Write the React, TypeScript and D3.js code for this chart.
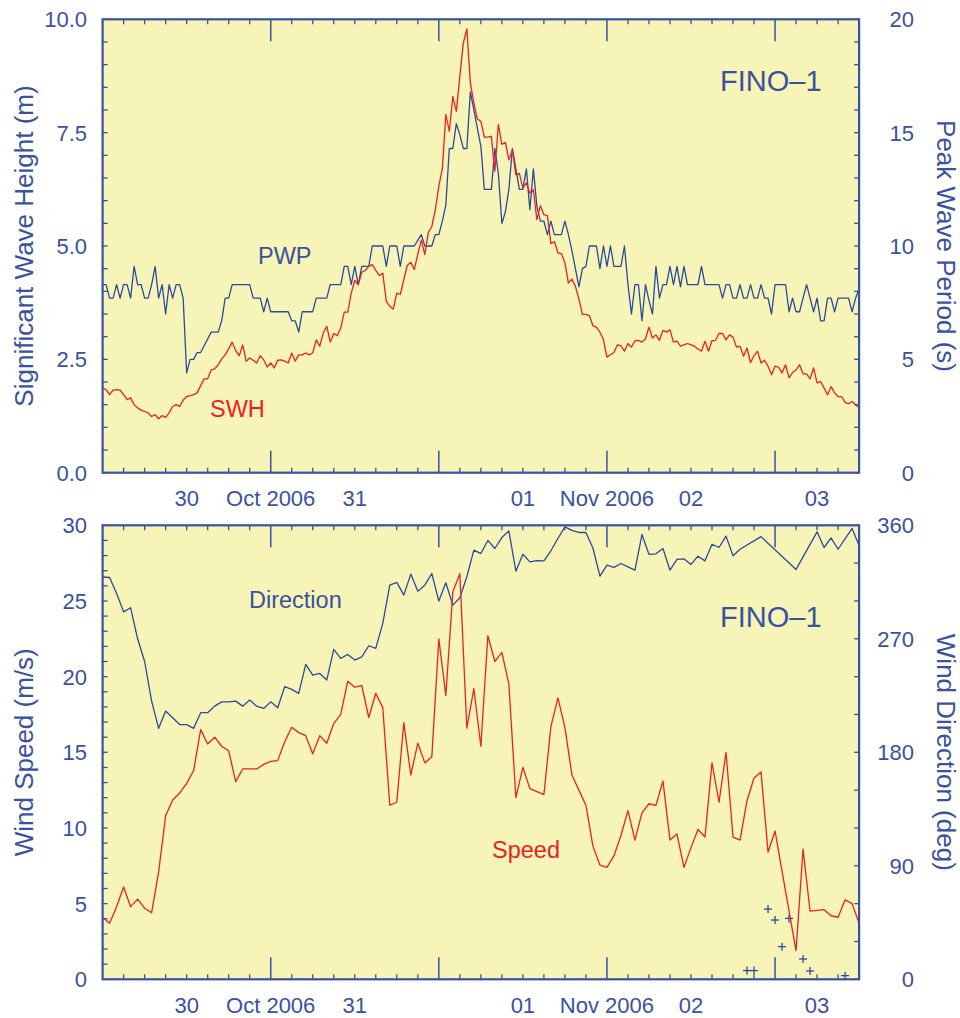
import React from "react";
import * as d3 from "d3";

// ---------- DATA ----------
// Half-hourly values from 30 Oct 2006 00:00 UTC
const SWH = [
  1.87, 1.83, 1.72, 1.82, 1.83, 1.82, 1.72, 1.61, 1.65, 1.5,
  1.43, 1.38, 1.35, 1.32, 1.24, 1.28, 1.19, 1.26, 1.22, 1.32,
  1.46, 1.5, 1.46, 1.6, 1.68, 1.7, 1.72, 1.76, 1.92, 2.07,
  2.07, 2.27, 2.29, 2.38, 2.51, 2.6, 2.73, 2.88, 2.69, 2.58,
  2.82, 2.46, 2.53, 2.48, 2.42, 2.58, 2.49, 2.33, 2.42, 2.31,
  2.48, 2.49, 2.46, 2.42, 2.64, 2.46, 2.6, 2.6, 2.64, 2.6,
  2.64, 2.93, 2.79, 3.08, 3.23, 2.88, 3.07, 3.02, 3.19, 3.54,
  3.54, 3.96, 4.24, 4.15, 4.42, 4.46, 4.55, 4.59, 4.46, 4.35,
  4.4, 3.78, 3.67, 3.61, 3.96, 3.93, 4.26, 4.57, 4.64, 4.48,
  4.82, 5.13, 4.81, 5.3, 5.43, 5.8, 6.32, 6.7, 7.9, 7.53,
  8.3, 7.97, 8.74, 9.48, 9.79, 8.6, 8.15, 7.8, 7.75, 7.4,
  7.4, 7.42, 6.65, 7.68, 7.24, 7.29, 6.9, 7.12, 6.57, 6.6,
  6.28, 6.39, 6.17, 6.24, 5.58, 5.89, 5.69, 5.67, 5.05, 5.1,
  4.85, 4.83, 4.63, 4.18, 4.27, 4.11, 3.83, 3.49, 3.49, 3.46,
  3.24, 3.21, 3.1, 2.93, 2.55, 2.6, 2.65, 2.82, 2.8, 2.68,
  2.85, 2.77, 2.91, 2.92, 2.88, 2.95, 3.21, 2.97, 3.04, 2.92,
  3.14, 3.1, 3.15, 2.88, 2.9, 2.79, 2.82, 2.85, 2.82, 2.79,
  2.73, 2.68, 2.9, 2.68, 2.91, 2.92, 3.07, 3.07, 2.93, 3.04,
  2.99, 2.77, 2.79, 2.57, 2.75, 2.43, 2.58, 2.68, 2.42, 2.48,
  2.35, 2.16, 2.35, 2.33, 2.2, 2.38, 2.09, 2.21, 2.27, 2.38,
  2.18, 2.18, 2.07, 2.31, 1.98, 2.01, 1.87, 1.72, 1.9, 1.76,
  1.68, 1.68, 1.55, 1.52, 1.57, 1.5, 1.43,
];

const PWP = [
  8.3, 8.3, 7.7, 7.7, 8.3, 7.7, 8.3, 8.3, 7.7, 9.1,
  8.3, 8.3, 7.7, 7.7, 8.3, 9.1, 7.7, 8.3, 7.0, 8.3,
  7.7, 8.3, 8.3, 7.7, 4.4, 5.0, 5.0, 5.3, 5.3, 5.6,
  5.9, 6.2, 6.2, 6.2, 6.7, 7.7, 7.7, 8.3, 8.3, 8.3,
  8.3, 8.3, 8.3, 7.7, 7.7, 7.7, 7.1, 7.7, 7.1, 7.1,
  7.1, 7.1, 7.1, 7.1, 6.7, 6.7, 6.2, 7.1, 7.1, 7.1,
  7.1, 7.7, 7.7, 7.7, 7.7, 8.3, 8.3, 8.3, 8.3, 9.1,
  9.1, 8.3, 9.1, 8.3, 9.1, 9.1, 9.1, 10.0, 10.0, 10.0,
  10.0, 9.1, 10.0, 10.0, 10.0, 9.1, 10.0, 10.0, 10.0, 10.0,
  10.25, 10.5, 10.0, 10.0, 10.0, 10.5, 10.5, 11.1, 11.8, 14.3,
  14.3, 15.4, 14.9, 14.3, 14.3, 16.8, 16.0, 15.2, 14.4, 12.5,
  12.5, 12.5, 14.3, 13.2, 11.0, 11.5, 12.5, 14.3, 13.4, 12.5,
  12.5, 13.4, 11.6, 13.4, 11.75, 11.1, 11.1, 10.5, 11.1, 10.5,
  10.5, 10.5, 11.1, 10.5, 9.8, 9.0, 8.2, 9.0, 9.1, 10.0,
  10.0, 10.0, 9.0, 10.0, 9.1, 10.0, 9.1, 9.1, 9.1, 10.0,
  8.3, 7.0, 8.3, 8.3, 6.7, 8.3, 7.6, 7.0, 9.1, 7.7,
  8.3, 8.3, 9.1, 8.3, 9.1, 8.2, 9.1, 8.3, 8.3, 8.3,
  8.3, 9.1, 8.3, 8.3, 8.3, 8.3, 8.3, 7.7, 8.3, 8.3,
  7.7, 7.7, 8.3, 7.7, 7.7, 8.3, 7.7, 7.7, 8.3, 7.7,
  7.7, 7.0, 8.3, 8.3, 8.3, 8.3, 7.1, 7.7, 7.1, 7.1,
  7.7, 8.3, 7.7, 7.1, 7.7, 6.7, 6.7, 7.7, 7.7, 7.1,
  7.7, 7.7, 7.7, 7.7, 7.1, 7.7, 8.1,
];

// Hourly values from 30 Oct 2006 00:00 UTC
const WIND_SPEED = [
  4.1, 3.7, 4.8, 6.1, 4.8, 5.3, 4.7, 4.4, 7.1, 10.8,
  11.85, 12.3, 12.95, 13.8, 16.5, 15.55, 16.0, 15.4, 15.1, 13.06,
  13.9, 13.9, 13.9, 14.2, 14.4, 14.45, 15.7, 16.65, 16.3, 16.1,
  14.9, 16.1, 15.6, 16.9, 17.5, 19.7, 19.3, 19.4, 17.3, 18.9,
  17.95, 11.5, 11.7, 16.96, 13.5, 15.6, 14.3, 14.7, 22.5, 18.75,
  25.6, 26.8, 16.6, 19.2, 15.4, 22.7, 21.0, 21.6, 19.5, 12.0,
  14.0, 12.6, 12.4, 12.2, 16.7, 18.6, 16.65, 13.5, 12.5, 11.5,
  8.8, 7.55, 7.4, 8.15, 9.5, 11.15, 9.2, 11.0, 11.6, 11.5,
  13.1, 9.2, 9.6, 7.4, 8.7, 9.9, 9.4, 14.3, 11.7, 15.0,
  9.4, 9.2, 11.8, 13.3, 13.7, 8.4, 9.8, 7.15, 4.5, 1.9,
  8.6, 4.5, 4.55, 4.6, 4.2, 4.1, 5.25, 5.0, 3.7,
];

const WIND_DIR = [
  319, 318.6, 306, 291.4, 294.6, 270, 252, 220.6, 199, 212.7,
  207.4, 202, 202, 199, 211.4, 211.4, 216.6, 220, 220, 220.6,
  216.6, 221.4, 216.6, 214.8, 220, 215.3, 232, 229.9, 226.7, 249.7,
  241.2, 242.5, 237.3, 261.6, 254.4, 257.6, 253.1, 255.7, 264.5, 262.4,
  282.2, 312.5, 314.7, 304.6, 321.3, 307.8, 312.5, 321.8, 299.9, 314.4,
  296.7, 302.5, 319.2, 340.3, 337.6, 348, 341.6, 350.3, 355.6, 323.6,
  337, 331, 332, 331.8, 339.8, 349.5, 358.8, 356, 354.3, 354.3,
  342, 319.7, 328.4, 326.6, 329.7, 327, 324.4, 352.7, 337, 337.4,
  341.6, 324.4, 333, 333.4, 329, 335.5, 331.8, 345, 342.4, 351.4,
  335.8, 341, 6.9, 6.9, 351, 55.7, 47, 25.9, 48.3, 325,
  16.1, 6.6, 354.8, 342.4, 350, 341, 2.9, 357.5, 344,
];

const DAY_LABELS = ["30", "31", "01", "02", "03"];
const MONTH_LABELS = ["Oct 2006", "Nov 2006"];
const MONTH_LABEL_DAY_OFFSETS = [1, 3];
const SWH_TICKS = [0, 2.5, 5, 7.5, 10];
const PWP_TICKS = [0, 5, 10, 15, 20];
const SPEED_TICKS = [0, 5, 10, 15, 20, 25, 30];
const DIR_TICKS = [0, 90, 180, 270, 360];

// ---------- LAYOUT / STYLE ----------
const START = new Date(Date.UTC(2006, 9, 30, 0));
const END = new Date(Date.UTC(2006, 10, 3, 12));
const W = 960;
const H = 1018;
const LEFT = 102.6;
const RIGHT = 859.1;
const P1 = { top: 19.3, bottom: 472.7 };
const P2 = { top: 525.3, bottom: 979.3 };

const BG = "#f6f4b6";
const AXIS = "#3a51a2";
const RED = "#ea2129";
const BLUE = "#2c4a9c";
const FONT = "'Liberation Sans', Arial, Helvetica, sans-serif";
const TICK_FS = 22;
const TITLE_FS = 26;

const x = d3.scaleUtc().domain([START, END]).range([LEFT, RIGHT]);

function XAxisDecor({ top, bottom }: { top: number; bottom: number }) {
  const majors = d3.utcDay.range(START, new Date(+END + 1)).filter((d) => +d > +START && +d < +END);
  const minors = d3.utcHour.every(3)!.range(START, END).filter((d) => d.getUTCHours() !== 0);
  const days = d3.utcDay.range(START, END);
  const labelY = bottom + 33.5;
  return (
    <g>
      {minors.map((d, i) => (
        <g key={"mn" + i}>
          <line x1={x(d)} x2={x(d)} y1={top} y2={top + 5} stroke={AXIS} strokeWidth={1.3} />
          <line x1={x(d)} x2={x(d)} y1={bottom} y2={bottom - 5} stroke={AXIS} strokeWidth={1.3} />
        </g>
      ))}
      {majors.map((d, i) => (
        <g key={"mj" + i}>
          <line x1={x(d)} x2={x(d)} y1={top} y2={top + 22} stroke={AXIS} strokeWidth={1.5} />
          <line x1={x(d)} x2={x(d)} y1={bottom} y2={bottom - 22} stroke={AXIS} strokeWidth={1.5} />
        </g>
      ))}
      {days.map((d, i) => {
        const a = x(d3.max([d, START])!);
        const b = x(d3.min([d3.utcDay.offset(d, 1), END])!);
        return (
          <text key={"dl" + i} x={(a + b) / 2} y={labelY} textAnchor="middle" fontSize={TICK_FS} fill={AXIS} fontFamily={FONT}>
            {DAY_LABELS[i]}
          </text>
        );
      })}
      {MONTH_LABELS.map((t, i) => (
        <text key={"ml" + i} x={x(d3.utcDay.offset(START, MONTH_LABEL_DAY_OFFSETS[i]))} y={labelY} textAnchor="middle" fontSize={TICK_FS} fill={AXIS} fontFamily={FONT}>
          {t}
        </text>
      ))}
    </g>
  );
}

function YAxisDecor({
  scale, ticks, minorStep, side, fmt,
}: { scale: d3.ScaleLinear<number, number>; ticks: number[]; minorStep: number; side: "left" | "right"; fmt: (v: number) => string }) {
  const [lo, hi] = scale.domain();
  const minors = d3.range(lo, hi + minorStep / 2, minorStep);
  const edge = side === "left" ? LEFT : RIGHT;
  const dir = side === "left" ? 1 : -1;
  const lx = side === "left" ? 87 : 914;
  return (
    <g>
      {minors.map((v, i) => (
        <line key={i} x1={edge} x2={edge + dir * 5} y1={scale(v)} y2={scale(v)} stroke={AXIS} strokeWidth={1.3} />
      ))}
      {ticks.map((v, i) => (
        <text key={"t" + i} x={lx} y={scale(v)} dy="0.36em" textAnchor="end" fontSize={TICK_FS} fill={AXIS} fontFamily={FONT}>
          {fmt(v)}
        </text>
      ))}
    </g>
  );
}

function Frame({ top, bottom }: { top: number; bottom: number }) {
  return <rect x={LEFT} y={top} width={RIGHT - LEFT} height={bottom - top} fill="none" stroke={AXIS} strokeWidth={2.2} />;
}

export default function App() {
  const halfHourT = (i: number) => new Date(+START + i * 30 * 60000);
  const hourT = (i: number) => new Date(+START + i * 60 * 60000);

  const ySwh = d3.scaleLinear().domain([0, 10]).range([P1.bottom, P1.top]);
  const yPwp = d3.scaleLinear().domain([0, 20]).range([P1.bottom, P1.top]);
  const ySpd = d3.scaleLinear().domain([0, 30]).range([P2.bottom, P2.top]);
  const yDir = d3.scaleLinear().domain([0, 360]).range([P2.bottom, P2.top]);

  const swhLine = d3.line<number>().x((_, i) => x(halfHourT(i))).y((v) => ySwh(v))(SWH) || "";
  const pwpLine = d3.line<number>().x((_, i) => x(halfHourT(i))).y((v) => yPwp(v))(PWP) || "";
  const spdLine = d3.line<number>().x((_, i) => x(hourT(i))).y((v) => ySpd(v))(WIND_SPEED) || "";

  const dirPts = WIND_DIR.map((v, i) => ({ t: hourT(i), v }));
  const dirLinePts = dirPts.filter((p) => p.v >= 90);
  const dirMarks = dirPts.filter((p) => p.v < 90);
  const dirLine = d3.line<{ t: Date; v: number }>().x((p) => x(p.t)).y((p) => yDir(p.v))(dirLinePts) || "";

  const f1 = d3.format(".1f");
  const f0 = d3.format("d");

  return (
    <div style={{ position: "absolute", left: 0, top: 0 }}>
      <svg width={W} height={H} viewBox={`0 0 ${W} ${H}`} style={{ display: "block", background: "#ffffff" }}>
        {/* Panel 1 */}
        <rect x={LEFT} y={P1.top} width={RIGHT - LEFT} height={P1.bottom - P1.top} fill={BG} />
        <path d={pwpLine} fill="none" stroke={BLUE} strokeWidth={1.3} strokeLinejoin="round" />
        <path d={swhLine} fill="none" stroke={RED} strokeWidth={1.3} strokeLinejoin="round" />
        <XAxisDecor top={P1.top} bottom={P1.bottom} />
        <YAxisDecor scale={ySwh} ticks={SWH_TICKS} minorStep={0.5} side="left" fmt={f1} />
        <YAxisDecor scale={yPwp} ticks={PWP_TICKS} minorStep={1} side="right" fmt={f0} />
        <Frame top={P1.top} bottom={P1.bottom} />
        <text x={720} y={90.5} fontSize={29} fill={AXIS} fontFamily={FONT}>FINO–1</text>
        <text x={258} y={264} fontSize={23.5} fill={AXIS} fontFamily={FONT}>PWP</text>
        <text x={210} y={417} fontSize={23.5} fill={RED} fontFamily={FONT}>SWH</text>
        <text transform={`translate(33,${(P1.top + P1.bottom) / 2}) rotate(-90)`} textAnchor="middle" fontSize={TITLE_FS} fill={AXIS} fontFamily={FONT}>
          Significant Wave Height (m)
        </text>
        <text transform={`translate(937,${(P1.top + P1.bottom) / 2}) rotate(90)`} textAnchor="middle" fontSize={TITLE_FS} fill={AXIS} fontFamily={FONT}>
          Peak Wave Period (s)
        </text>

        {/* Panel 2 */}
        <rect x={LEFT} y={P2.top} width={RIGHT - LEFT} height={P2.bottom - P2.top} fill={BG} />
        <path d={dirLine} fill="none" stroke={BLUE} strokeWidth={1.3} strokeLinejoin="round" />
        {dirMarks.map((p, i) => {
          const cx = x(p.t);
          const cy = yDir(p.v);
          return (
            <g key={"pm" + i} stroke={BLUE} strokeWidth={1.3}>
              <line x1={cx - 4} x2={cx + 4} y1={cy} y2={cy} />
              <line x1={cx} x2={cx} y1={cy - 4} y2={cy + 4} />
            </g>
          );
        })}
        <path d={spdLine} fill="none" stroke={RED} strokeWidth={1.3} strokeLinejoin="round" />
        <XAxisDecor top={P2.top} bottom={P2.bottom} />
        <YAxisDecor scale={ySpd} ticks={SPEED_TICKS} minorStep={1} side="left" fmt={f0} />
        <YAxisDecor scale={yDir} ticks={DIR_TICKS} minorStep={30} side="right" fmt={f0} />
        <Frame top={P2.top} bottom={P2.bottom} />
        <text x={720} y={627} fontSize={29} fill={AXIS} fontFamily={FONT}>FINO–1</text>
        <text x={249} y={608} fontSize={23.5} fill={AXIS} fontFamily={FONT}>Direction</text>
        <text x={492} y={858} fontSize={23.5} fill={RED} fontFamily={FONT}>Speed</text>
        <text transform={`translate(33,${(P2.top + P2.bottom) / 2}) rotate(-90)`} textAnchor="middle" fontSize={TITLE_FS} fill={AXIS} fontFamily={FONT}>
          Wind Speed (m/s)
        </text>
        <text transform={`translate(937,${(P2.top + P2.bottom) / 2}) rotate(90)`} textAnchor="middle" fontSize={TITLE_FS} fill={AXIS} fontFamily={FONT}>
          Wind Direction (deg)
        </text>
      </svg>
    </div>
  );
}
